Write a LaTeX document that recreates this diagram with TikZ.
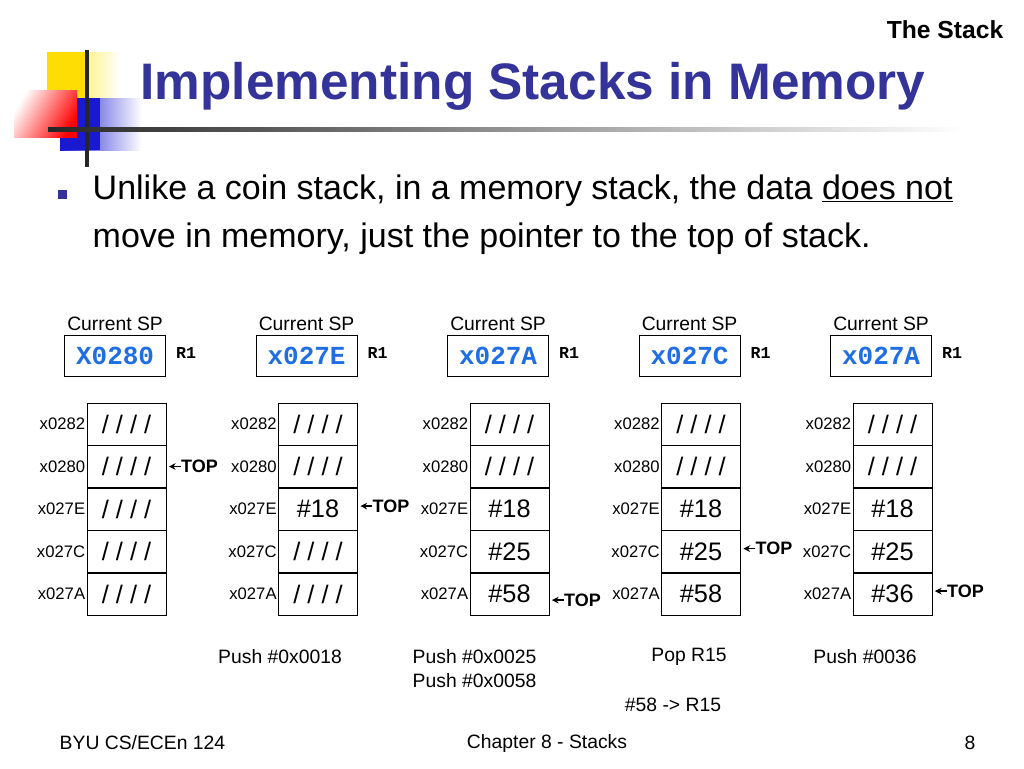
\documentclass[tikz,border=0pt]{standalone}
\usepackage{fontspec}
\setmainfont{Liberation Sans}
\setmonofont{Liberation Mono}
\usetikzlibrary{positioning,arrows.meta}
\definecolor{titleblue}{RGB}{51,51,153}
\definecolor{regblue}{RGB}{30,110,230}
\tikzset{
  cell/.style={draw, minimum width=59.25pt, minimum height=31.5pt, inner sep=0pt, font=\fontsize{19}{19}\selectfont},
  addr/.style={anchor=east, inner sep=1pt, font=\fontsize{12.5}{14}\selectfont},
  spbox/.style={draw, minimum width=76pt, minimum height=31pt, inner sep=0pt, font=\ttfamily\bfseries\fontsize{19.5}{20}\selectfont\color{regblue}},
  toplbl/.style={anchor=west, inner sep=0pt, font=\bfseries\fontsize{13.5}{14}\selectfont},
  note/.style={font=\fontsize{14.5}{16}\selectfont}
}
\begin{document}
\begin{tikzpicture}[x=0.75pt, y=-0.75pt]
				\useasboundingbox (0, 0) rectangle (1024, 768);
				\fill[white] (0, 0) rectangle (1024, 768);
				% logo
				\shade[left color=yellow!80!orange, right color=white] (47, 52) rectangle (120, 98);
				\fill[yellow!80!orange] (47, 52) rectangle (87, 98);
				\shade[left color=blue!80!black!90, right color=white] (60, 98) rectangle (142, 150);
				\fill[blue!80!black!90] (60, 98) rectangle (100, 150);
				\shade[left color=white, right color=red, shading angle=60] (14, 90) rectangle (77, 137);
				\draw[line width=2.5pt, black!85] (87, 50) -- (87, 167);
				\shade[left color=black!85, right color=white] (48, 127) rectangle (965, 131);
				\node[anchor=west, text=titleblue, font=\bfseries\fontsize{38.5}{42}\selectfont] (title) at (136, 86) {Implementing Stacks in Memory};
				\node[anchor=east, font=\bfseries\fontsize{18.5}{20}\selectfont] (sect) at (1008, 30) {The Stack};
				% bullet
				\fill[titleblue] (58, 190) rectangle ++(9, 9);
				\node[anchor=north west, align=left, font=\fontsize{25.5}{36}\selectfont] (txt) at (88, 170) {Unlike a coin stack, in a memory stack, the data \underline{does not}\\move in memory, just the pointer to the top of stack.};
				% stacks
				\foreach \c/\sp/\va/\vb/\vc/\vd/\ve [count=\i] in {
				    0/X0280/{/ / / /}/{/ / / /}/{/ / / /}/{/ / / /}/{/ / / /},
				    1/x027E/{/ / / /}/{/ / / /}/\#18/{/ / / /}/{/ / / /},
				    2/x027A/{/ / / /}/{/ / / /}/\#18/\#25/\#58,
				    3/x027C/{/ / / /}/{/ / / /}/\#18/\#25/\#58,
				    4/x027A/{/ / / /}/{/ / / /}/\#18/\#25/\#36} {
				  \pgfmathsetmacro{\cx}{126.5 + 191.5*\c}
				  \node[spbox, anchor=north east] (sp\i) at (\cx+39.5, 335) {\sp};
				  \node[anchor=south, font=\fontsize{14.5}{16}\selectfont] (cur\i) at (sp\i.north) {Current SP};
				  \node[anchor=west, font=\ttfamily\bfseries\fontsize{12.5}{14}\selectfont] (reg\i) at ([xshift=4pt]sp\i.east |- 0, 353) {R1};
				  \node[cell] (m\i a) at (\cx, 424) {\va};
				  \node[cell, below=0pt of m\i a] (m\i b) {\vb};
				  \node[cell, below=0pt of m\i b] (m\i c) {\vc};
				  \node[cell, below=0pt of m\i c] (m\i d) {\vd};
				  \node[cell, below=0pt of m\i d] (m\i e) {\ve};
				  \node[addr] at (m\i a.west) {x0282};
				  \node[addr] at (m\i b.west) {x0280};
				  \node[addr] at (m\i c.west) {x027E};
				  \node[addr] at (m\i d.west) {x027C};
				  \node[addr] at (m\i e.west) {x027A};
				}
				% top of stack pointers
				\foreach \cell/\dy [count=\k] in {m1b/0, m2c/-3, m3e/6, m4d/-3, m5e/-3} {
				  \coordinate (tip\k) at ([xshift=2pt, yshift=-\dy*0.75pt]\cell.east);
				  \node[toplbl] (top\k) at ([xshift=9pt]tip\k) {TOP};
				  \draw[-{Stealth[length=5pt, width=5pt]}, line width=1.2pt] (top\k.west) -- (tip\k);
				}
				% operations
				\node[note] (op1) at (280, 657) {Push \#0x0018};
				\node[note, anchor=west] (op2) at (408, 657) {Push \#0x0025};
				\node[note, anchor=west] (op2b) at (408, 681) {Push \#0x0058};
				\node[note] (op3) at (689, 657) {Pop R15};
				\node[note] (op3b) at (673, 705) {\#58 -> R15};
				\node[note] (op4) at (865, 657) {Push \#0036};
				% footer
				\node[note, anchor=west] (foot1) at (55, 743) {BYU CS/ECEn 124};
				\node[note] (foot2) at (547, 743) {Chapter 8 - Stacks};
				\node[note] (foot3) at (970, 743) {8};
			\end{tikzpicture}
\end{document}
